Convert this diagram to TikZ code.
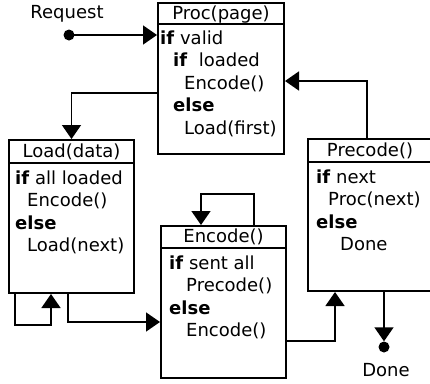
\documentclass[tikz,border=0pt]{standalone}
\usepackage{fontspec}
\setmainfont{DejaVu Sans}
\usetikzlibrary{arrows.meta}
\tikzset{
  box/.style={draw, line width=2pt, rectangle, inner sep=0pt, anchor=north west},
  hdr/.style={line width=1.4pt},
  ttl/.style={anchor=base, inner sep=0pt, font=\fontsize{18}{21}\selectfont},
  ln/.style={anchor=base west, inner sep=0pt, font=\fontsize{18}{21}\selectfont},
  arr/.style={line width=1.5pt, -{Triangle[length=14pt,width=19pt]}},
  dot/.style={circle, fill=black, inner sep=0pt, minimum size=11pt},
}
\begin{document}
\begin{tikzpicture}[x=1pt,y=-1pt]
\useasboundingbox (0,0) rectangle (430,383);
% boxes
\node[box, minimum width=126pt, minimum height=151pt] (proc) at (157,2) {};
\node[box, minimum width=125pt, minimum height=153pt] (load) at (8,139) {};
\node[box, minimum width=125pt, minimum height=152pt] (encode) at (160,225) {};
\node[box, minimum width=124pt, minimum height=152pt] (precode) at (307,138) {};
% headers
\draw[hdr] ([yshift=-22pt]proc.north west) -- ([yshift=-22pt]proc.north east);
\draw[hdr] ([yshift=-24pt]load.north west) -- ([yshift=-24pt]load.north east);
\draw[hdr] ([yshift=-23pt]encode.north west) -- ([yshift=-23pt]encode.north east);
\draw[hdr] ([yshift=-24pt]precode.north west) -- ([yshift=-24pt]precode.north east);
\node[ttl] (proct) at ([yshift=-17pt]proc.north) {Proc(page)};
\node[ttl] (loadt) at ([yshift=-18pt]load.north) {Load(data)};
\node[ttl] (enct) at ([yshift=-17pt]encode.north) {Encode()};
\node[ttl] (prect) at ([yshift=-18pt]precode.north) {Precode()};
% Proc body
\node[ln] (p1) at (160,44) {\textbf{if} valid};
\node[ln] (p2) at (173,66.5) {\textbf{if}\ \ loaded};
\node[ln] (p3) at (184,89) {Encode()};
\node[ln] (p4) at (173,111.5) {\textbf{else}};
\node[ln] (p5) at (184,134) {Load(first)};
% Load body
\node[ln] (l1) at (15,184) {\textbf{if} all loaded};
\node[ln] (l2) at (27,206.5) {Encode()};
\node[ln] (l3) at (15,229) {\textbf{else}};
\node[ln] (l4) at (27,251.5) {Load(next)};
% Encode body
\node[ln] (e1) at (169,269) {\textbf{if} sent all};
\node[ln] (e2) at (186,291.5) {Precode()};
\node[ln] (e3) at (169,314) {\textbf{else}};
\node[ln] (e4) at (186,336.5) {Encode()};
% Precode body
\node[ln] (c1) at (316,183) {\textbf{if} next};
\node[ln] (c2) at (328,205.5) {Proc(next)};
\node[ln] (c3) at (316,228) {\textbf{else}};
\node[ln] (c4) at (340,250.5) {Done};
% request
\node[ttl] (reqt) at (67,18) {Request};
\node[dot] (req) at (69,35) {};
\draw[arr] (req.center) -- (req -| proc.west);
% Proc -> Load
\draw[arr] ([yshift=-91pt]proc.north west) -| (load.north);
% Precode -> Proc
\draw[arr] ([xshift=-3pt]precode.north) |- ([yshift=-79pt]proc.north east);
% Encode -> Precode
\draw[arr] ([yshift=-116pt]encode.north east) -| ([xshift=28pt]precode.south west);
% Load -> Encode
\draw[arr] ([xshift=60pt]load.south west) |- ([yshift=-97pt]encode.north west);
% Load self loop
\draw[arr] ([xshift=7pt]load.south west) -- ++(0,31) -| ([xshift=43pt]load.south west);
% Encode self loop
\draw[arr] ([xshift=94pt]encode.north west) -- ++(0,-31) -| ([xshift=41pt]encode.north west);
% Done
\node[dot] (done) at (384,347) {};
\node[ttl] (donet) at (386,376) {Done};
\draw[arr] ([xshift=77pt]precode.south west) -- (done.north);
\end{tikzpicture}
\end{document}
